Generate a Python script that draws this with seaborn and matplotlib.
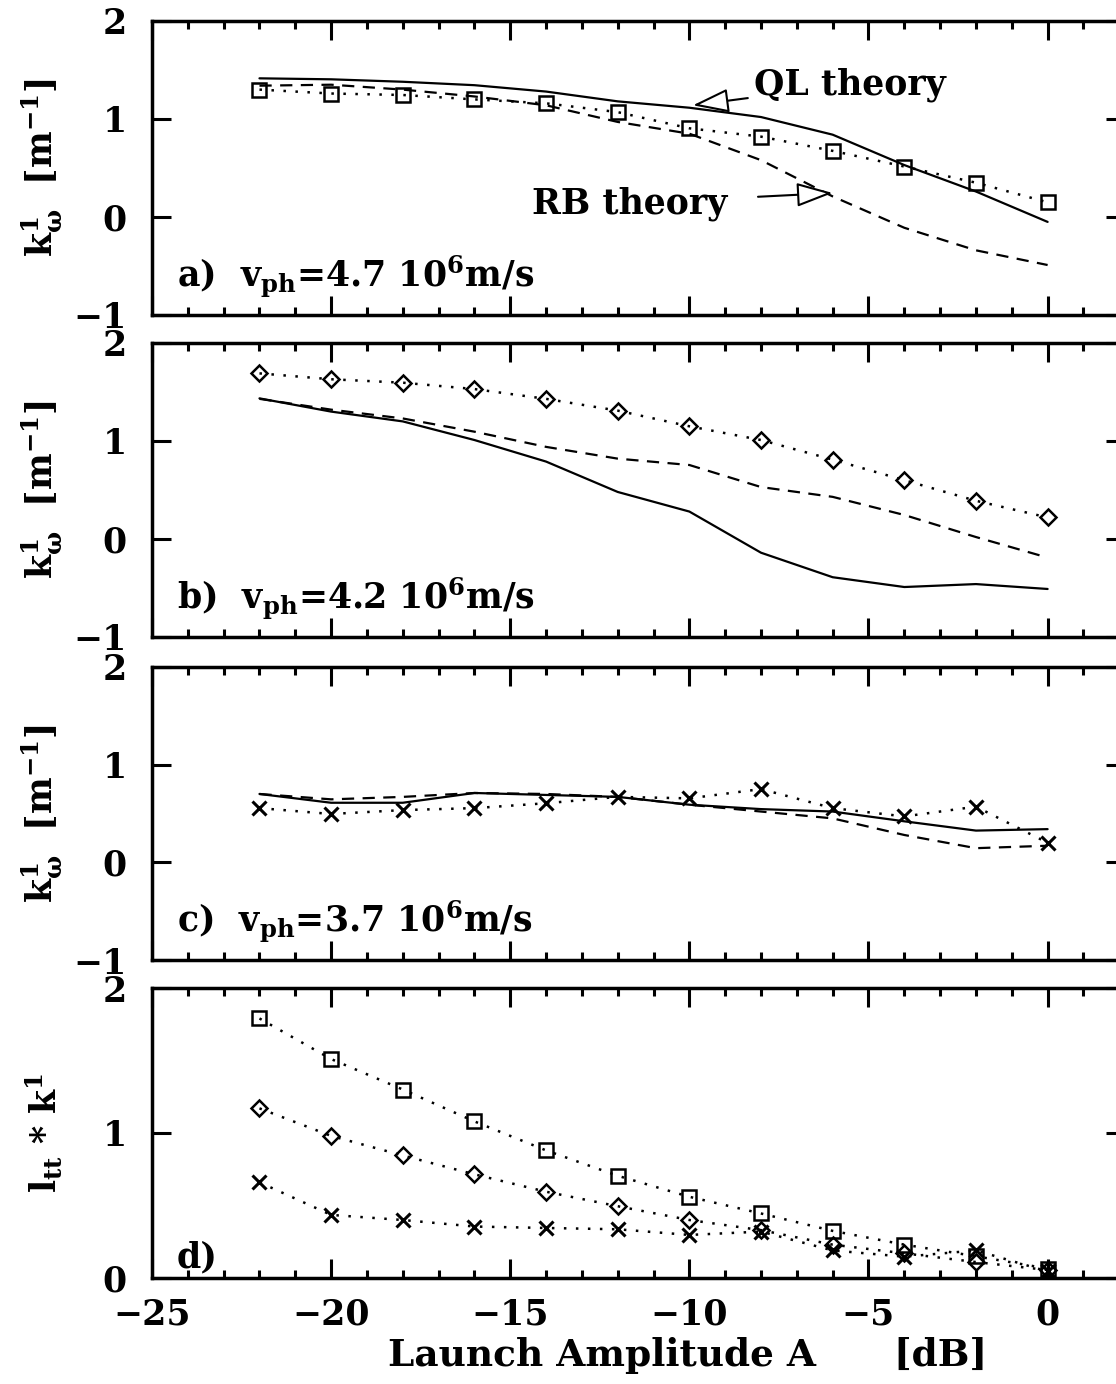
# import libraries
import numpy as np
import matplotlib
matplotlib.use("Agg")
import matplotlib.pyplot as plt
from matplotlib.ticker import MultipleLocator, NullLocator
import seaborn as sns

# Data
amp = [-22, -20, -18, -16, -14, -12, -10, -8, -6, -4, -2, 0]

# a) v_ph = 4.7e6 m/s
a_exp = [1.30, 1.26, 1.245, 1.20, 1.16, 1.07, 0.905, 0.82, 0.675, 0.515, 0.35, 0.15]
a_ql = [1.415, 1.405, 1.38, 1.345, 1.28, 1.18, 1.115, 1.02, 0.84, 0.53, 0.26, -0.05]
a_rb = [1.34, 1.35, 1.30, 1.23, 1.14, 0.97, 0.85, 0.58, 0.21, -0.11, -0.34, -0.49]

# b) v_ph = 4.2e6 m/s
b_exp = [1.69, 1.63, 1.595, 1.53, 1.43, 1.31, 1.15, 1.01, 0.81, 0.60, 0.39, 0.22]
b_ql = [1.435, 1.30, 1.20, 1.01, 0.79, 0.48, 0.28, -0.14, -0.39, -0.49, -0.46, -0.51]
b_rb = [1.43, 1.32, 1.23, 1.095, 0.94, 0.82, 0.755, 0.53, 0.43, 0.245, 0.02, -0.19]

# c) v_ph = 3.7e6 m/s
c_exp = [0.555, 0.495, 0.535, 0.555, 0.605, 0.67, 0.655, 0.75, 0.555, 0.47, 0.57, 0.20]
c_ql = [0.70, 0.61, 0.61, 0.71, 0.69, 0.67, 0.59, 0.545, 0.52, 0.42, 0.325, 0.34]
c_rb = [0.70, 0.645, 0.67, 0.71, 0.70, 0.67, 0.59, 0.52, 0.45, 0.28, 0.145, 0.17]

# d) l_tt * k^1 for the three phase velocities
d_sq = [1.79, 1.51, 1.30, 1.08, 0.88, 0.705, 0.56, 0.445, 0.325, 0.23, 0.15, 0.065]
d_di = [1.17, 0.98, 0.845, 0.715, 0.595, 0.495, 0.40, 0.33, 0.23, 0.17, 0.11, 0.055]
d_x = [0.66, 0.435, 0.40, 0.355, 0.345, 0.336, 0.297, 0.32, 0.19, 0.147, 0.19, 0.045]

panel_text = [r'a)  $v_{ph}$=4.7 10$^6$m/s',
              r'b)  $v_{ph}$=4.2 10$^6$m/s',
              r'c)  $v_{ph}$=3.7 10$^6$m/s',
              'd)']
ylab_k = r'$k^1_\omega$  [m$^{-1}$]'
ylab_d = r'$l_{tt}$ * $k^1$'
xlab = 'Launch Amplitude A      [dB]'

# Style
sns.set_style('ticks')
plt.rcParams['font.family'] = ['DejaVu Serif', 'DejaVu Sans']
plt.rcParams['font.weight'] = 'bold'
plt.rcParams['axes.labelweight'] = 'bold'
plt.rcParams['mathtext.fontset'] = 'dejavuserif'
plt.rcParams['mathtext.default'] = 'bf'
plt.rcParams['axes.linewidth'] = 2.5
for key in ['text.color', 'axes.edgecolor', 'axes.labelcolor', 'xtick.color', 'ytick.color']:
    plt.rcParams[key] = 'black'
FS = 25

DOT = (0, (1, 3.8))
DASH = (0, (5.5, 3.8))

fig = plt.figure(figsize=(11.16, 13.84), dpi=100)
W, H = 1116, 1384
left = 152 / W
width = 973 / W
tops = [21, 343, 667, 988]
bots = [315, 637, 960, 1278]
axes = [fig.add_axes([left, 1 - b / H, width, (b - t) / H]) for t, b in zip(tops, bots)]


def exp_line(ax, y, marker, ms, mew=1.8):
    sns.lineplot(x=amp, y=y, ax=ax, color='black', linestyle=DOT, lw=1.8,
                 marker=marker, markersize=ms, markerfacecolor='none',
                 markeredgecolor='black', markeredgewidth=mew, sort=False)


def theory(ax, ql, rb):
    sns.lineplot(x=amp, y=ql, ax=ax, color='black', lw=1.6, sort=False)
    sns.lineplot(x=amp, y=rb, ax=ax, color='black', lw=1.6, linestyle=DASH, sort=False)


theory(axes[0], a_ql, a_rb)
exp_line(axes[0], a_exp, 's', 10)
theory(axes[1], b_ql, b_rb)
exp_line(axes[1], b_exp, 'D', 8)
theory(axes[2], c_ql, c_rb)
exp_line(axes[2], c_exp, 'x', 10, 2.2)
exp_line(axes[3], d_sq, 's', 10)
exp_line(axes[3], d_di, 'D', 8)
exp_line(axes[3], d_x, 'x', 10, 2.2)

for i, ax in enumerate(axes):
    ax.set_xlim(-25, 2.16)
    if i < 3:
        ax.set_ylim(-1, 2)
        ax.set_ylabel(ylab_k, fontsize=FS)
        ax.text(-24.3, -0.72, panel_text[i], fontsize=FS, va='baseline', ha='left')
    else:
        ax.set_ylim(0, 2)
        ax.set_ylabel(ylab_d, fontsize=FS)
        ax.text(-24.3, 0.07, panel_text[i], fontsize=FS, va='baseline', ha='left')
    ax.yaxis.set_label_coords(-0.09, 0.5)
    ax.xaxis.set_major_locator(MultipleLocator(5))
    ax.xaxis.set_minor_locator(MultipleLocator(1))
    ax.yaxis.set_major_locator(MultipleLocator(1))
    ax.yaxis.set_minor_locator(NullLocator())
    ax.tick_params(which='both', direction='in', top=True, right=True, width=2.2)
    ax.tick_params(which='major', length=14)
    ax.tick_params(which='minor', length=6)
    ax.tick_params(axis='y', pad=18, labelsize=FS)
    ax.tick_params(axis='x', pad=14, labelsize=FS)
    if i < 3:
        ax.tick_params(axis='x', labelbottom=False)
        ax.set_xlabel('')

axes[3].set_xlabel(xlab, fontsize=FS + 2)
axes[3].xaxis.set_label_coords(0.55, -0.205)

# annotations in panel a
arrow = dict(arrowstyle='-|>,head_length=0.9,head_width=0.3', fc='white', ec='black', lw=1.5)
axes[0].annotate('QL theory', xy=(-9.9, 1.14), xytext=(-8.2, 1.35), fontsize=FS,
                 ha='left', va='center', arrowprops=dict(arrow, shrinkA=2, shrinkB=0))
axes[0].annotate('RB theory', xy=(-6.0, 0.245), xytext=(-14.4, 0.14), fontsize=FS,
                 ha='left', va='center', arrowprops=dict(arrow, shrinkA=20, shrinkB=0))

plt.savefig('out.png', dpi=100)
